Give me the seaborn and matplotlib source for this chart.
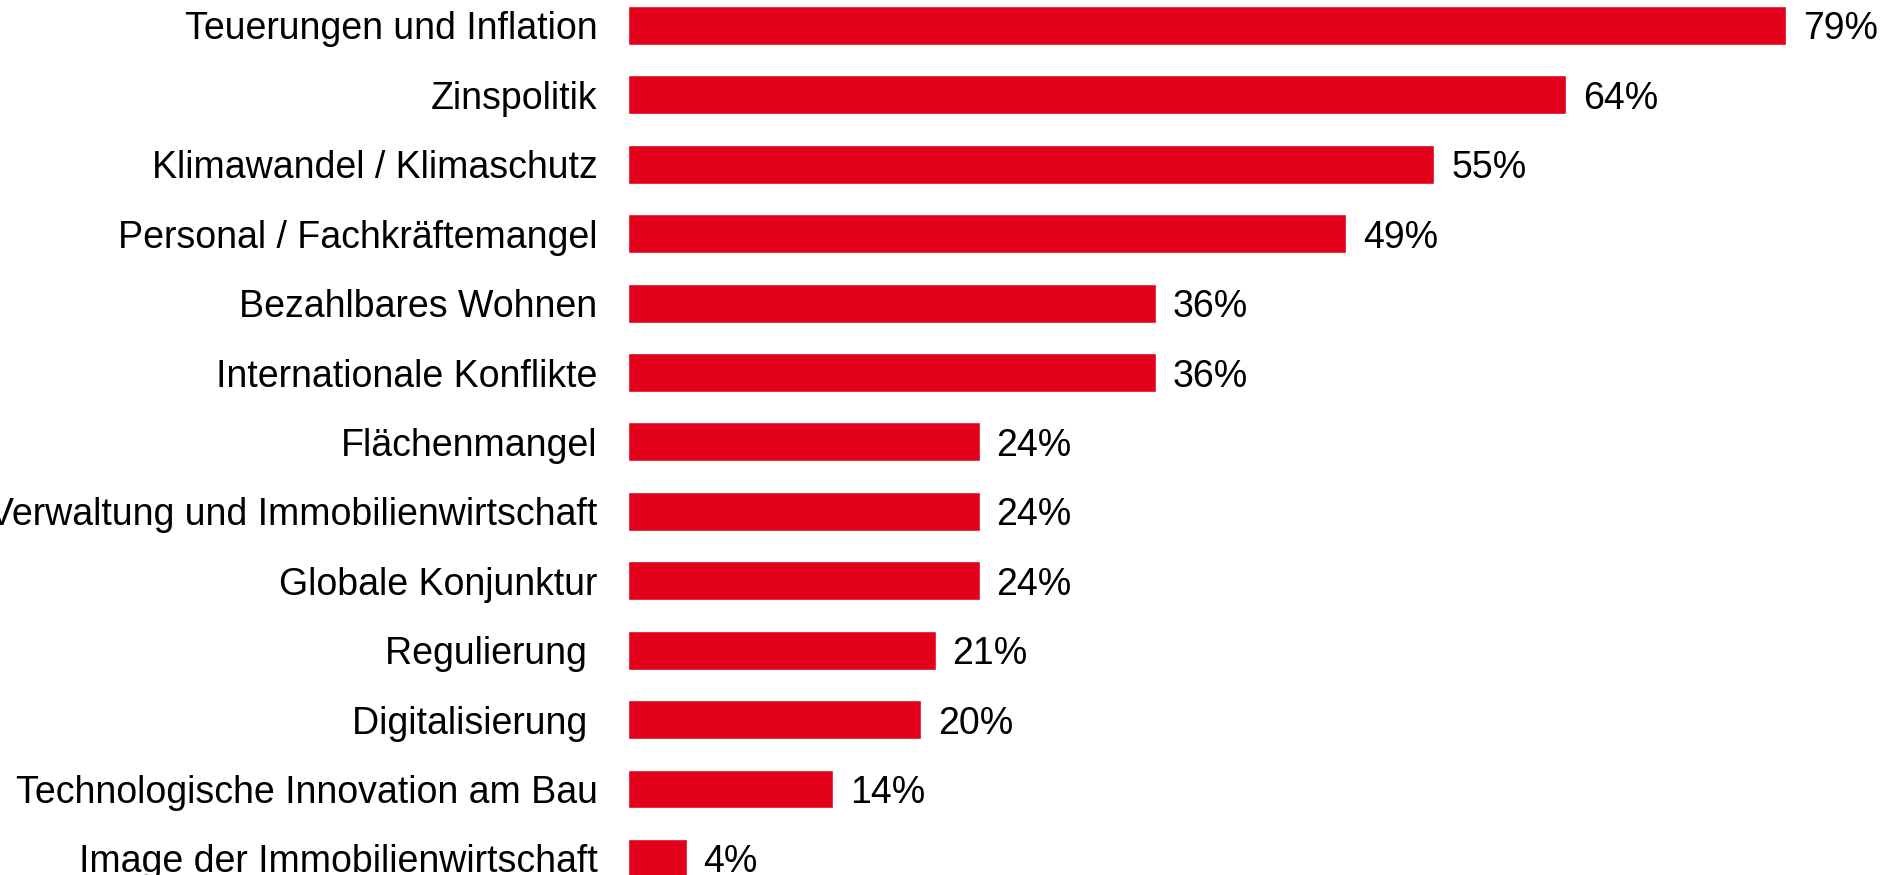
import matplotlib
matplotlib.use("Agg")
import matplotlib.pyplot as plt
import seaborn as sns
import pandas as pd

categories = [
    "Teuerungen und Inflation",
    "Zinspolitik",
    "Klimawandel / Klimaschutz",
    "Personal / Fachkräftemangel",
    "Bezahlbares Wohnen",
    "Internationale Konflikte",
    "Flächenmangel",
    "Verwaltung und Immobilienwirtschaft",
    "Globale Konjunktur",
    "Regulierung ",
    "Digitalisierung ",
    "Technologische Innovation am Bau",
    "Image der Immobilienwirtschaft",
]
values = [79, 64, 55, 49, 36, 36, 24, 24, 24, 21, 20, 14, 4]

df = pd.DataFrame({"Thema": categories, "Anteil": values})

sns.set_theme(style="white")
plt.rcParams["font.family"] = ["Liberation Sans", "DejaVu Sans"]

W, H, DPI = 1901, 875, 100
fig = plt.figure(figsize=(W / DPI, H / DPI), dpi=DPI)
# axes start where the bars start; 1% ~ 14.66 px
ax = fig.add_axes([628 / W, 0, 1261 / W, 1])

sns.barplot(data=df, x="Anteil", y="Thema", color="#E2001A", width=0.56,
            saturation=1, ax=ax)

for c in ax.containers:
    texts = ax.bar_label(c, labels=[f"{v}%" for v in values], padding=12,
                         fontsize=27, color="black")
    for t in texts:
        t.set_va("center_baseline")

ax.set_xlim(0, 86)
ax.set_ylim(12.24, -0.367)
ax.set_xlabel("")
ax.set_ylabel("")
ax.set_xticks([])
ax.tick_params(axis="y", length=0, pad=22, labelsize=27, labelcolor="black")
sns.despine(ax=ax, left=True, bottom=True)

fig.savefig("out.png", dpi=DPI)
